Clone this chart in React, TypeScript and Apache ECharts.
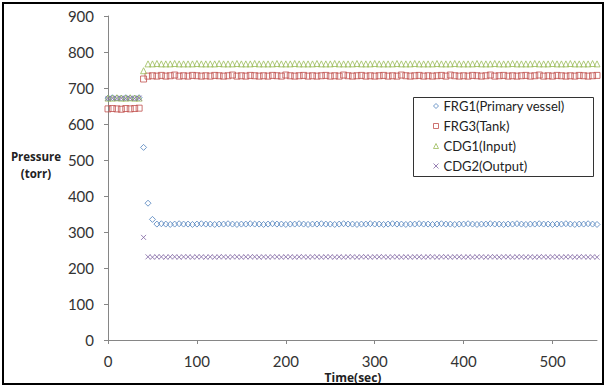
import React, { useEffect, useRef } from "react";
import * as echarts from "echarts";

const times = [
  0, 5, 10, 15, 20, 25, 30, 35, 40, 45, 50, 55, 60, 65, 70, 75, 80, 85, 90, 95,
  100, 105, 110, 115, 120, 125, 130, 135, 140, 145, 150, 155, 160, 165, 170, 175, 180, 185, 190, 195,
  200, 205, 210, 215, 220, 225, 230, 235, 240, 245, 250, 255, 260, 265, 270, 275, 280, 285, 290, 295,
  300, 305, 310, 315, 320, 325, 330, 335, 340, 345, 350, 355, 360, 365, 370, 375, 380, 385, 390, 395,
  400, 405, 410, 415, 420, 425, 430, 435, 440, 445, 450, 455, 460, 465, 470, 475, 480, 485, 490, 495,
  500, 505, 510, 515, 520, 525, 530, 535, 540, 545, 550,
];

const frg1 = [
  672, 673, 672, 672, 673, 672, 672, 673, 535, 380, 335,
  322, 323, 322, 321, 322, 323, 322, 322, 321, 322,
  323, 322, 322, 321, 322, 322, 323, 322, 321, 322,
  322, 323, 322, 322, 321, 322, 323, 322, 322, 321,
  322, 322, 323, 322, 321, 322, 322, 323, 322, 322,
  321, 322, 323, 322, 322, 321, 322, 322, 323, 322,
  322, 321, 322, 323, 322, 322, 321, 322, 322, 323,
  322, 322, 321, 322, 323, 322, 322, 321, 322, 322,
  323, 322, 321, 322, 322, 323, 322, 322, 321, 322,
  322, 323, 322, 321, 322, 322, 323, 322, 322, 321,
  322, 322, 323, 322, 321, 322, 322, 323, 322, 321,
];

const frg3 = [
  642, 643, 642, 641, 643, 642, 643, 644, 725,
  733, 734, 733, 735, 733, 734, 736, 733, 734, 733,
  735, 734, 733, 734, 733, 735, 734, 733, 734, 736,
  733, 734, 733, 735, 734, 733, 734, 733, 735, 734,
  733, 736, 734, 733, 734, 735, 733, 734, 733, 734,
  735, 733, 734, 733, 736, 734, 733, 734, 735, 733,
  734, 733, 734, 735, 733, 734, 733, 736, 734, 733,
  734, 735, 733, 734, 733, 734, 735, 733, 736, 734,
  733, 734, 733, 735, 734, 733, 734, 736, 733, 734,
  735, 733, 734, 733, 734, 735, 733, 734, 736, 733,
  734, 733, 735, 734, 733, 734, 733, 735, 734, 733,
  734, 735,
];

const cdg1 = [
  672, 672, 673, 672, 672, 673, 672, 672, 748,
  767, 767, 768, 767, 767, 767, 768, 767, 767, 767,
  767, 768, 767, 767, 767, 767, 768, 767, 767, 767,
  768, 767, 767, 767, 768, 767, 767, 767, 767, 768,
  767, 767, 767, 768, 767, 767, 767, 767, 768, 767,
  767, 767, 768, 767, 767, 767, 767, 768, 767, 767,
  767, 768, 767, 767, 767, 767, 768, 767, 767, 767,
  768, 767, 767, 767, 767, 768, 767, 767, 767, 768,
  767, 767, 767, 767, 768, 767, 767, 767, 768, 767,
  767, 767, 768, 767, 767, 767, 767, 768, 767, 767,
  767, 768, 767, 767, 767, 768, 767, 767, 767, 767,
  768, 767,
];

const cdg2 = [
  671, 672, 671, 672, 671, 672, 671, 672, 285,
  231, 230, 231, 231, 230, 231, 231, 230, 231, 231,
  230, 231, 231, 230, 231, 230, 231, 231, 230, 231,
  231, 230, 231, 231, 231, 230, 231, 230, 231, 231,
  230, 231, 231, 230, 231, 231, 230, 231, 231, 230,
  231, 231, 230, 231, 230, 231, 231, 230, 231, 231,
  230, 231, 231, 231, 230, 231, 231, 230, 231, 230,
  231, 231, 230, 231, 231, 230, 231, 231, 230, 231,
  231, 230, 231, 230, 231, 231, 230, 231, 231, 230,
  231, 231, 230, 231, 231, 230, 231, 230, 231, 231,
  230, 231, 231, 230, 231, 231, 230, 231, 231, 230,
  231, 230,
];

const seriesNames = ["FRG1(Primary vessel)", "FRG3(Tank)", "CDG1(Input)", "CDG2(Output)"];
const seriesColors = ["#4F81BD", "#C0504D", "#9BBB59", "#8064A2"];
const xTicks = [0, 100, 200, 300, 400, 500];

const FONT = "Lato, 'Open Sans', sans-serif";
const NAME_FONT = "'Open Sans', sans-serif";

export default function App() {
  const ref = useRef<HTMLDivElement>(null);
  useEffect(() => {
    if (!ref.current) return;
    const chart = echarts.init(ref.current, undefined, { renderer: "svg" });
    const allValues = [frg1, frg3, cdg1, cdg2];
    const symbols = ["diamond", "rect", "triangle", "path://M0,0L10,10M10,0L0,10"];
    const sizes = [6, 6, 6, 5];
    const series = allValues.map((vals, i) => ({
      name: seriesNames[i],
      type: "scatter",
      symbol: symbols[i],
      symbolSize: sizes[i],
      itemStyle: {
        color: "rgba(255,255,255,0)",
        borderColor: seriesColors[i],
        borderWidth: 1,
      },
      data: times.map((t, j) => [t, vals[j]]),
      z: 2,
    }));
    const axisColor = "#868686";
    chart.setOption({
      animation: false,
      backgroundColor: "#ffffff",
      grid: { left: 108, top: 16, width: 489, height: 324 },
      xAxis: {
        type: "value",
        min: 0,
        max: 550,
        interval: 100,
        axisLine: { show: true, lineStyle: { color: axisColor, width: 1 } },
        axisTick: { show: true, length: 4, lineStyle: { color: axisColor }, customValues: xTicks },
        axisLabel: {
          customValues: xTicks,
          margin: 13,
          fontSize: 15,
          lineHeight: 15,
          color: "#333",
          fontFamily: FONT,
        },
        splitLine: { show: false },
      },
      yAxis: {
        type: "value",
        min: 0,
        max: 900,
        interval: 100,
        axisLine: { show: true, lineStyle: { color: axisColor, width: 1 } },
        axisTick: { show: true, length: 4, lineStyle: { color: axisColor } },
        axisLabel: { margin: 14, fontSize: 15, color: "#333", fontFamily: FONT },
        splitLine: { show: false },
      },
      legend: {
        orient: "vertical",
        left: 433,
        top: 98,
        itemWidth: 5,
        itemHeight: 5,
        itemGap: 4,
        padding: 0,
        textStyle: { fontSize: 13, color: "#222", fontFamily: FONT, lineHeight: 16 },
        data: seriesNames.map((n, i) => ({
          name: n,
          icon: symbols[i],
          itemStyle: { color: "rgba(255,255,255,0)", borderColor: seriesColors[i], borderWidth: 1 },
        })),
        z: 5,
      },
      graphic: [
        {
          type: "rect",
          shape: { x: 413.5, y: 97.5, width: 180, height: 79 },
          style: { fill: "#fff", stroke: "#333", lineWidth: 1 },
          z: 3,
        },
        {
          type: "rect",
          shape: { x: 3, y: 3, width: 600, height: 381 },
          style: { fill: "none", stroke: "#000", lineWidth: 2 },
          z: 10,
          silent: true,
        },
        {
          type: "text",
          x: 36,
          y: 165,
          style: {
            text: "Pressure\n(torr)",
            textAlign: "center",
            textVerticalAlign: "middle",
            fontSize: 11.5,
            fontWeight: "bold",
            lineHeight: 17,
            fill: "#222",
            fontFamily: NAME_FONT,
          },
          z: 5,
        },
        {
          type: "text",
          x: 353,
          y: 377,
          style: {
            text: "Time(sec)",
            textAlign: "center",
            textVerticalAlign: "middle",
            fontSize: 12,
            lineHeight: 13,
            fontWeight: "bold",
            fill: "#222",
            fontFamily: NAME_FONT,
          },
          z: 5,
        },
      ],
      series,
    });
    return () => chart.dispose();
  }, []);
  return (
    <div
      ref={ref}
      style={{ position: "absolute", left: 0, top: 0, width: 606, height: 387, background: "#fff" }}
    />
  );
}
